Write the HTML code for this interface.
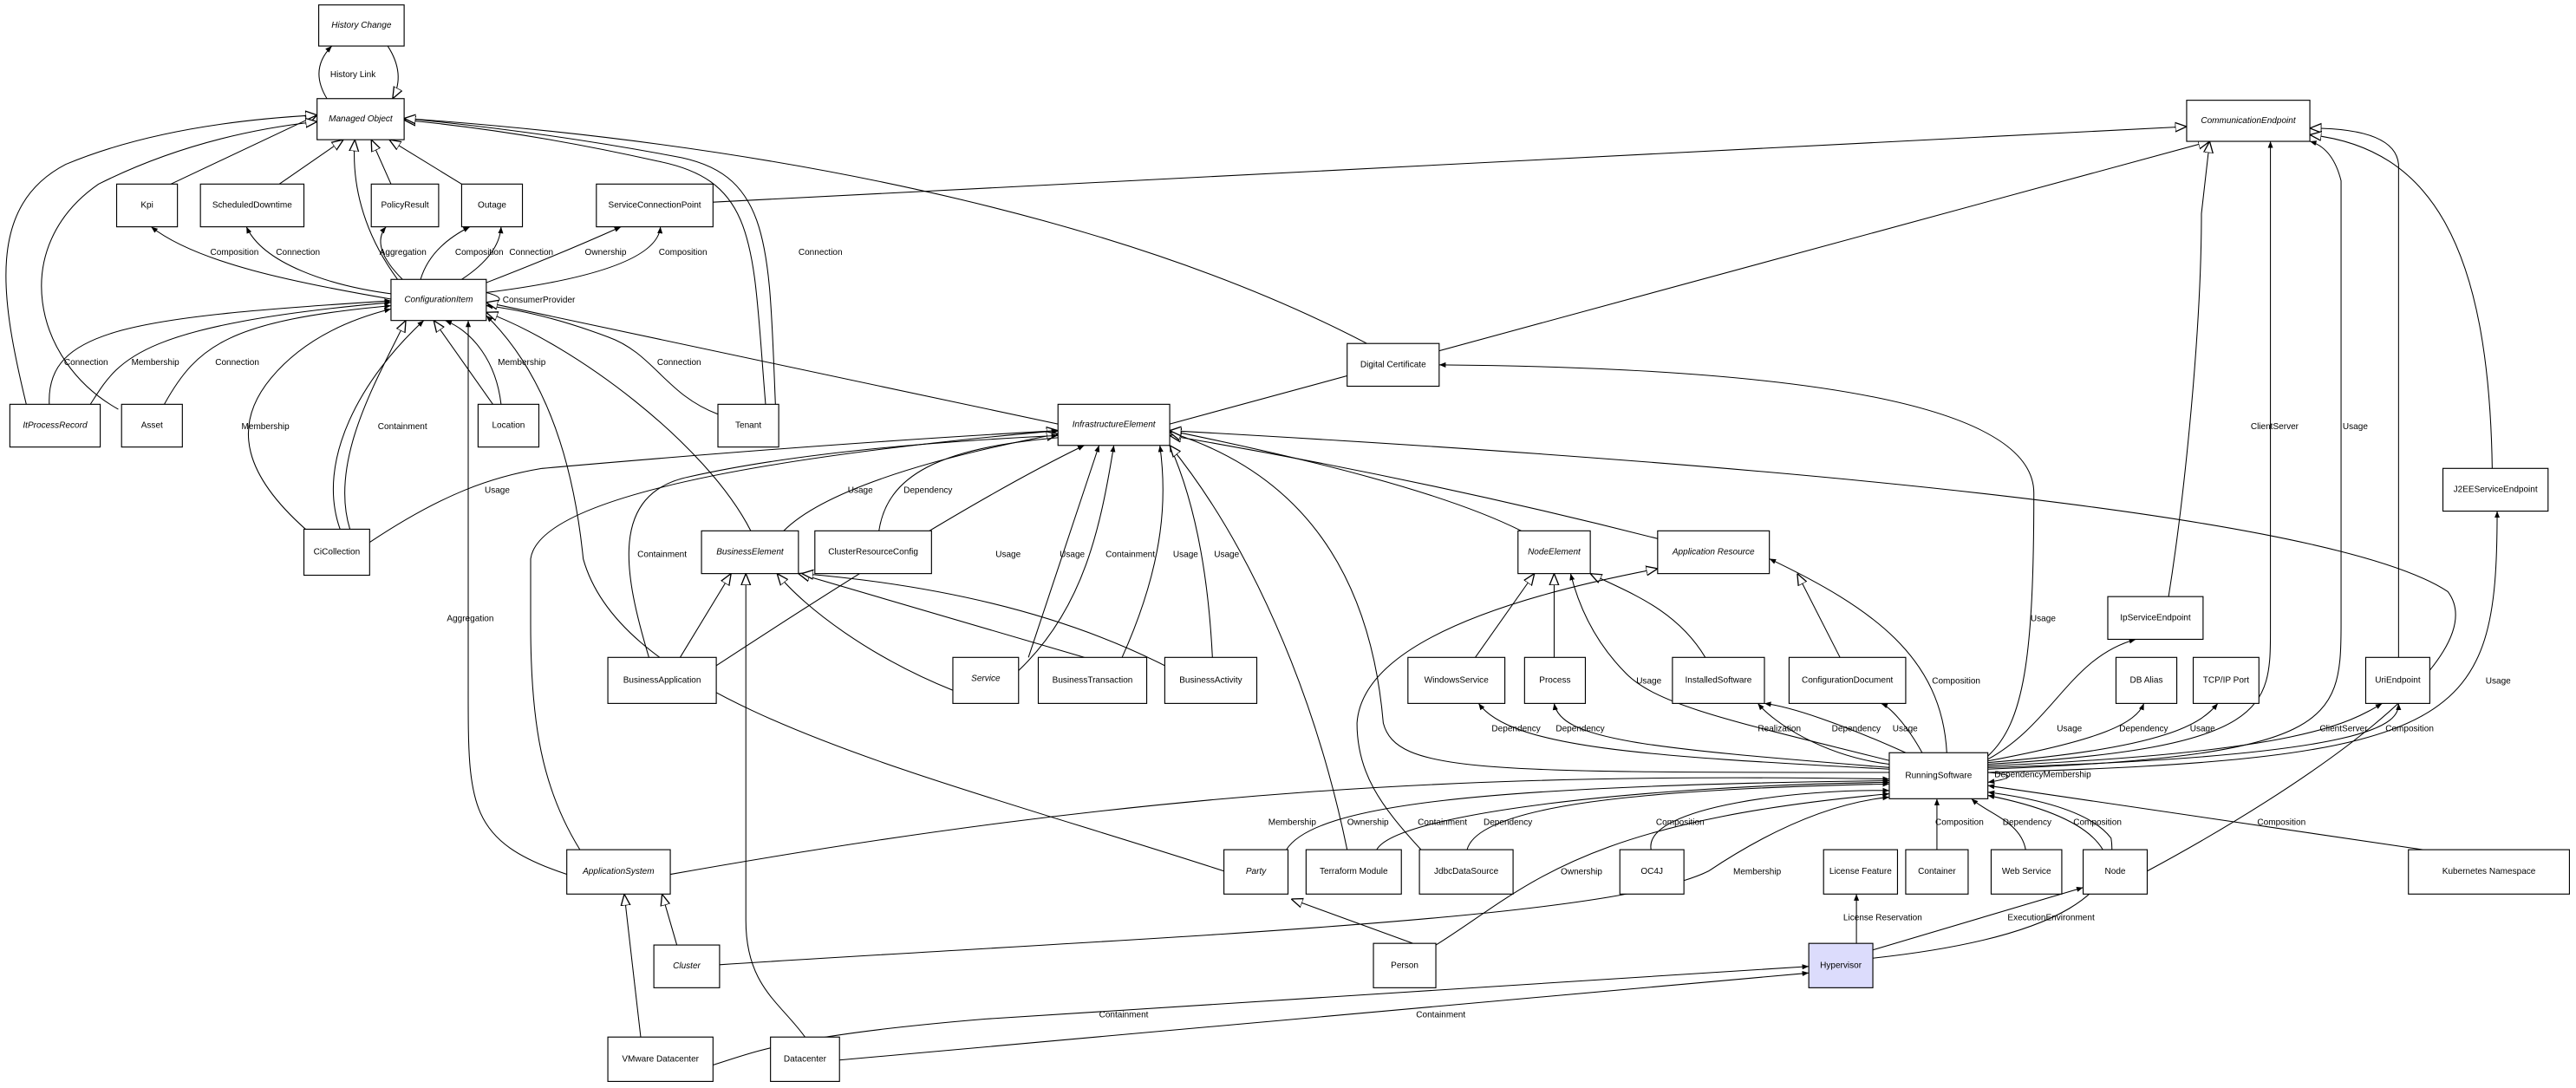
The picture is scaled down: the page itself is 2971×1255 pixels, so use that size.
<!DOCTYPE html>
<html><head><meta charset="utf-8"><style>
html,body{margin:0;padding:0;background:#fff;}
svg{display:block;}
text{font-family:"Liberation Sans",Arial,sans-serif;font-size:5.3px;fill:#000;}
.n{text-anchor:middle;dominant-baseline:central;}
.i{font-style:italic;}
.b{fill:#fff;stroke:#000;stroke-width:0.6;}
.e{fill:none;stroke:#000;stroke-width:0.55;}
</style></head><body>
<svg width="2971" height="1255" viewBox="0 0 1568 662" preserveAspectRatio="none" xmlns="http://www.w3.org/2000/svg">
<defs>
<marker id="f" viewBox="0 0 10 10" refX="10" refY="5" markerWidth="4" markerHeight="4" orient="auto" markerUnits="userSpaceOnUse"><path d="M0,1 L10,5 L0,9 z" fill="#000"/></marker>
<marker id="h" viewBox="0 0 10 10" refX="10" refY="5" markerWidth="7" markerHeight="7" orient="auto" markerUnits="userSpaceOnUse"><path d="M0,1 L10,5 L0,9 z" fill="#fff" stroke="#000" stroke-width="1"/></marker>
</defs>
<g class="e">
<path d="M199 60 Q188 42 202 28" marker-end="url(#f)"/>
<path d="M236 28 Q247 45 239 60" marker-end="url(#h)"/>
<path d="M104 112 L193 70" marker-end="url(#h)"/>
<path d="M170 112 L209 85" marker-end="url(#h)"/>
<path d="M238 112 L226 85" marker-end="url(#h)"/>
<path d="M281 112 L237 85" marker-end="url(#h)"/>
<path d="M16 246 C0 180 -8 125 40 100 Q100 75 193 70" marker-end="url(#h)"/>
<path d="M72 249 C20 220 5 150 60 112 Q120 82 193 74" marker-end="url(#h)"/>
<path d="M242 170 C220 140 214 110 216 85" marker-end="url(#h)"/>
<path d="M466 246 C458 150 462 110 400 98 Q320 80 246 73" marker-end="url(#h)"/>
<path d="M472 246 C468 150 470 105 410 95 Q330 80 246 72" marker-end="url(#f)"/>
<path d="M832 209 C700 140 500 90 246 72" marker-end="url(#h)"/>
<path d="M434 123 L1331 77" marker-end="url(#h)"/>
<path d="M712 258 L1345 86" marker-end="url(#h)"/>
<path d="M238 182 C180 172 120 160 92 138" marker-end="url(#f)"/>
<path d="M240 179 C200 174 160 160 150 138" marker-end="url(#f)"/>
<path d="M245 170 Q225 150 235 138" marker-end="url(#f)"/>
<path d="M256 170 Q262 150 286 138" marker-end="url(#f)"/>
<path d="M281 170 Q304 155 305 138" marker-end="url(#f)"/>
<path d="M296 172 Q340 155 378 138" marker-end="url(#f)"/>
<path d="M296 178 Q400 165 402 138" marker-end="url(#f)"/>
<path d="M296 178 Q312 182 296 186" marker-end="url(#f)"/>
<path d="M30 246 C28 200 80 193 238 183" marker-end="url(#f)"/>
<path d="M55 246 C72 220 80 198 238 184" marker-end="url(#f)"/>
<path d="M100 246 C120 210 140 195 238 186" marker-end="url(#f)"/>
<path d="M186 322 C150 290 140 260 165 230 Q190 200 238 188" marker-end="url(#f)"/>
<path d="M207 322 C192 280 220 230 258 195" marker-end="url(#f)"/>
<path d="M213 322 C200 280 230 230 247 195" marker-end="url(#h)"/>
<path d="M300 246 L264 195" marker-end="url(#h)"/>
<path d="M305 246 C302 220 288 202 271 195" marker-end="url(#f)"/>
<path d="M437 252 C405 240 398 215 370 205 Q330 190 296 186" marker-end="url(#f)"/>
<path d="M345 532 C285 512 285 490 285 420 L285 195" marker-end="url(#f)"/>
<path d="M745 530 C560 470 380 430 355 340 Q345 240 296 192" marker-end="url(#f)"/>
<path d="M457 323 C430 270 350 210 296 190" marker-end="url(#h)"/>
<path d="M644 258 L296 184" marker-end="url(#h)"/>
<path d="M353 517 C330 480 323 440 323 380 L323 340 Q330 290 644 262" marker-end="url(#h)"/>
<path d="M225 330 C270 300 300 290 330 285 Q500 270 644 262" marker-end="url(#f)"/>
<path d="M477 323 C500 300 560 280 644 264" marker-end="url(#h)"/>
<path d="M535 323 C540 290 570 272 648 266" marker-end="url(#f)"/>
<path d="M395 400 C380 350 370 300 420 290 Q500 272 644 265" marker-end="url(#f)"/>
<path d="M436 405 C520 350 600 300 660 271" marker-end="url(#f)"/>
<path d="M626 400 L669 271" marker-end="url(#f)"/>
<path d="M620 408 C660 370 670 320 678 271" marker-end="url(#f)"/>
<path d="M683 400 C710 340 710 300 706 271" marker-end="url(#f)"/>
<path d="M738 400 C735 340 725 300 712 271" marker-end="url(#f)"/>
<path d="M820 517 C800 420 760 330 712 271" marker-end="url(#h)"/>
<path d="M926 323 C880 300 800 280 712 262" marker-end="url(#h)"/>
<path d="M1010 328 C900 300 800 280 712 265" marker-end="url(#h)"/>
<path d="M1150 470 C900 470 850 470 842 440 Q830 300 712 263" marker-end="url(#h)"/>
<path d="M1307 530 C1400 480 1520 400 1490 360 Q1400 300 712 262" marker-end="url(#h)"/>
<path d="M414 400 L445 349" marker-end="url(#h)"/>
<path d="M580 420 C530 400 490 370 473 349" marker-end="url(#h)"/>
<path d="M660 400 L486 349" marker-end="url(#h)"/>
<path d="M709 405 C640 370 560 355 488 349" marker-end="url(#h)"/>
<path d="M490 631 C475 610 454 600 454 560 L454 349" marker-end="url(#h)"/>
<path d="M898 400 L934 349" marker-end="url(#h)"/>
<path d="M946 400 L946 349" marker-end="url(#h)"/>
<path d="M1038 400 C1020 370 990 360 968 349" marker-end="url(#h)"/>
<path d="M1155 464 C1060 440 1010 430 990 410 Q965 385 956 349" marker-end="url(#f)"/>
<path d="M1120 400 L1094 349" marker-end="url(#h)"/>
<path d="M865 517 C840 490 826 470 826 440 Q830 380 1009 346" marker-end="url(#h)"/>
<path d="M1185 458 C1182 400 1140 370 1077 340" marker-end="url(#f)"/>
<path d="M1150 468 C1000 460 920 455 900 428" marker-end="url(#f)"/>
<path d="M1150 467 C1000 455 950 450 946 428" marker-end="url(#f)"/>
<path d="M1150 465 C1110 460 1080 440 1070 428" marker-end="url(#f)"/>
<path d="M1160 458 C1120 440 1090 430 1074 428" marker-end="url(#f)"/>
<path d="M1170 458 C1160 440 1150 430 1145 428" marker-end="url(#f)"/>
<path d="M1210 462 C1250 440 1260 400 1300 389" marker-end="url(#f)"/>
<path d="M1210 463 C1280 450 1300 440 1305 428" marker-end="url(#f)"/>
<path d="M1210 464 C1320 455 1340 440 1350 428" marker-end="url(#f)"/>
<path d="M1210 466 C1400 458 1430 440 1450 428" marker-end="url(#f)"/>
<path d="M1210 467 C1450 460 1460 440 1460 428" marker-end="url(#f)"/>
<path d="M1210 460 C1232 440 1238 400 1238 300 Q1238 225 876 222" marker-end="url(#f)"/>
<path d="M1210 465 C1385 455 1382 430 1382 380 L1382 86" marker-end="url(#f)"/>
<path d="M1210 468 C1420 460 1425 440 1425 380 L1425 110 Q1420 90 1406 86" marker-end="url(#f)"/>
<path d="M1210 470 C1500 462 1520 440 1520 311" marker-end="url(#f)"/>
<path d="M1320 363 C1330 300 1340 200 1340 130 L1345 86" marker-end="url(#h)"/>
<path d="M1460 400 L1460 100 Q1458 78 1406 78" marker-end="url(#h)"/>
<path d="M1517 285 C1515 150 1480 90 1406 82" marker-end="url(#h)"/>
<path d="M408 532 C700 480 900 470 1150 474" marker-end="url(#f)"/>
<path d="M783 517 C800 490 900 478 1150 475" marker-end="url(#f)"/>
<path d="M838 517 C850 495 1000 478 1150 476" marker-end="url(#f)"/>
<path d="M893 517 C900 490 1000 480 1150 477" marker-end="url(#f)"/>
<path d="M1005 517 C1000 490 1100 480 1150 481" marker-end="url(#f)"/>
<path d="M874 575 C930 540 960 500 1150 483" marker-end="url(#f)"/>
<path d="M438 587 C700 570 980 560 1040 530 Q1100 490 1150 485" marker-end="url(#f)"/>
<path d="M1179 517 L1179 486" marker-end="url(#f)"/>
<path d="M1233 517 C1230 500 1210 495 1200 486" marker-end="url(#f)"/>
<path d="M1280 517 C1270 500 1240 490 1210 484" marker-end="url(#f)"/>
<path d="M1475 517 L1210 478" marker-end="url(#f)"/>
<path d="M1140 583 C1260 570 1290 540 1285 510 Q1270 490 1210 482" marker-end="url(#f)"/>
<path d="M1210 470 Q1235 472 1210 476" marker-end="url(#f)"/>
<path d="M1130 574 L1130 544" marker-end="url(#f)"/>
<path d="M1140 578 L1268 540" marker-end="url(#f)"/>
<path d="M434 648 C460 640 480 630 600 620 L1101 588" marker-end="url(#f)"/>
<path d="M511 645 L1101 592" marker-end="url(#f)"/>
<path d="M412 575 L403 544" marker-end="url(#h)"/>
<path d="M390 631 L380 544" marker-end="url(#h)"/>
<path d="M860 574 L786 547" marker-end="url(#h)"/>
</g>
<g>
<text x="201" y="47">History Link</text>
<text x="128" y="155">Composition</text>
<text x="168" y="155">Connection</text>
<text x="231" y="155">Aggregation</text>
<text x="277" y="155">Composition</text>
<text x="310" y="155">Connection</text>
<text x="356" y="155">Ownership</text>
<text x="401" y="155">Composition</text>
<text x="486" y="155">Connection</text>
<text x="306" y="184">ConsumerProvider</text>
<text x="39" y="222">Connection</text>
<text x="80" y="222">Membership</text>
<text x="131" y="222">Connection</text>
<text x="303" y="222">Membership</text>
<text x="400" y="222">Connection</text>
<text x="147" y="261">Membership</text>
<text x="230" y="261">Containment</text>
<text x="295" y="300">Usage</text>
<text x="516" y="300">Usage</text>
<text x="550" y="300">Dependency</text>
<text x="388" y="339">Containment</text>
<text x="606" y="339">Usage</text>
<text x="645" y="339">Usage</text>
<text x="673" y="339">Containment</text>
<text x="714" y="339">Usage</text>
<text x="739" y="339">Usage</text>
<text x="272" y="378">Aggregation</text>
<text x="1236" y="378">Usage</text>
<text x="1370" y="261">ClientServer</text>
<text x="1426" y="261">Usage</text>
<text x="996" y="416">Usage</text>
<text x="1176" y="416">Composition</text>
<text x="1513" y="416">Usage</text>
<text x="908" y="445">Dependency</text>
<text x="947" y="445">Dependency</text>
<text x="1070" y="445">Realization</text>
<text x="1115" y="445">Dependency</text>
<text x="1152" y="445">Usage</text>
<text x="1252" y="445">Usage</text>
<text x="1290" y="445">Dependency</text>
<text x="1333" y="445">Usage</text>
<text x="1412" y="445">ClientServer</text>
<text x="1452" y="445">Composition</text>
<text x="1214" y="473">DependencyMembership</text>
<text x="772" y="502">Membership</text>
<text x="820" y="502">Ownership</text>
<text x="863" y="502">Containment</text>
<text x="903" y="502">Dependency</text>
<text x="1008" y="502">Composition</text>
<text x="1178" y="502">Composition</text>
<text x="1219" y="502">Dependency</text>
<text x="1262" y="502">Composition</text>
<text x="1374" y="502">Composition</text>
<text x="950" y="532">Ownership</text>
<text x="1055" y="532">Membership</text>
<text x="1122" y="560">License Reservation</text>
<text x="1222" y="560">ExecutionEnvironment</text>
<text x="669" y="619">Containment</text>
<text x="862" y="619">Containment</text>
</g>
<g>
<rect class="b" x="194" y="3" width="52" height="25"/><text class="n i" x="220" y="15.5">History Change</text>
<rect class="b" x="193" y="60" width="53" height="25"/><text class="n i" x="219.5" y="72.5">Managed Object</text>
<rect class="b" x="71" y="112" width="37" height="26"/><text class="n" x="89.5" y="125">Kpi</text>
<rect class="b" x="122" y="112" width="63" height="26"/><text class="n" x="153.5" y="125">ScheduledDowntime</text>
<rect class="b" x="226" y="112" width="41" height="26"/><text class="n" x="246.5" y="125">PolicyResult</text>
<rect class="b" x="281" y="112" width="37" height="26"/><text class="n" x="299.5" y="125">Outage</text>
<rect class="b" x="363" y="112" width="71" height="26"/><text class="n" x="398.5" y="125">ServiceConnectionPoint</text>
<rect class="b" x="238" y="170" width="58" height="25"/><text class="n i" x="267" y="182.5">ConfigurationItem</text>
<rect class="b" x="6" y="246" width="55" height="26"/><text class="n i" x="33.5" y="259">ItProcessRecord</text>
<rect class="b" x="74" y="246" width="37" height="26"/><text class="n" x="92.5" y="259">Asset</text>
<rect class="b" x="291" y="246" width="37" height="26"/><text class="n" x="309.5" y="259">Location</text>
<rect class="b" x="437" y="246" width="37" height="26"/><text class="n" x="455.5" y="259">Tenant</text>
<rect class="b" x="820" y="209" width="56" height="26"/><text class="n" x="848" y="222">Digital Certificate</text>
<rect class="b" x="1331" y="61" width="75" height="25"/><text class="n i" x="1368.5" y="73.5">CommunicationEndpoint</text>
<rect class="b" x="644" y="246" width="68" height="25"/><text class="n i" x="678" y="258.5">InfrastructureElement</text>
<rect class="b" x="185" y="322" width="40" height="28"/><text class="n" x="205" y="336">CiCollection</text>
<rect class="b" x="427" y="323" width="59" height="26"/><text class="n i" x="456.5" y="336">BusinessElement</text>
<rect class="b" x="496" y="323" width="71" height="26"/><text class="n" x="531.5" y="336">ClusterResourceConfig</text>
<rect class="b" x="924" y="323" width="44" height="26"/><text class="n i" x="946" y="336">NodeElement</text>
<rect class="b" x="1009" y="323" width="68" height="26"/><text class="n i" x="1043" y="336">Application Resource</text>
<rect class="b" x="1487" y="285" width="64" height="26"/><text class="n" x="1519" y="298">J2EEServiceEndpoint</text>
<rect class="b" x="370" y="400" width="66" height="28"/><text class="n" x="403" y="414">BusinessApplication</text>
<rect class="b" x="580" y="400" width="40" height="28"/><text class="n i" x="600" y="413">Service</text>
<rect class="b" x="632" y="400" width="66" height="28"/><text class="n" x="665" y="414">BusinessTransaction</text>
<rect class="b" x="709" y="400" width="56" height="28"/><text class="n" x="737" y="414">BusinessActivity</text>
<rect class="b" x="857" y="400" width="59" height="28"/><text class="n" x="886.5" y="414">WindowsService</text>
<rect class="b" x="928" y="400" width="37" height="28"/><text class="n" x="946.5" y="414">Process</text>
<rect class="b" x="1018" y="400" width="56" height="28"/><text class="n" x="1046" y="414">InstalledSoftware</text>
<rect class="b" x="1089" y="400" width="71" height="28"/><text class="n" x="1124.5" y="414">ConfigurationDocument</text>
<rect class="b" x="1283" y="363" width="58" height="26"/><text class="n" x="1312" y="376">IpServiceEndpoint</text>
<rect class="b" x="1288" y="400" width="37" height="28"/><text class="n" x="1306.5" y="414">DB Alias</text>
<rect class="b" x="1335" y="400" width="40" height="28"/><text class="n" x="1355" y="414">TCP/IP Port</text>
<rect class="b" x="1440" y="400" width="39" height="28"/><text class="n" x="1459.5" y="414">UriEndpoint</text>
<rect class="b" x="1150" y="458" width="60" height="28"/><text class="n" x="1180" y="472">RunningSoftware</text>
<rect class="b" x="345" y="517" width="63" height="27"/><text class="n i" x="376.5" y="530.5">ApplicationSystem</text>
<rect class="b" x="745" y="517" width="39" height="27"/><text class="n i" x="764.5" y="530.5">Party</text>
<rect class="b" x="795" y="517" width="58" height="27"/><text class="n" x="824" y="530.5">Terraform Module</text>
<rect class="b" x="864" y="517" width="57" height="27"/><text class="n" x="892.5" y="530.5">JdbcDataSource</text>
<rect class="b" x="986" y="517" width="39" height="27"/><text class="n" x="1005.5" y="530.5">OC4J</text>
<rect class="b" x="1110" y="517" width="45" height="27"/><text class="n" x="1132.5" y="530.5">License Feature</text>
<rect class="b" x="1160" y="517" width="38" height="27"/><text class="n" x="1179" y="530.5">Container</text>
<rect class="b" x="1212" y="517" width="43" height="27"/><text class="n" x="1233.5" y="530.5">Web Service</text>
<rect class="b" x="1268" y="517" width="39" height="27"/><text class="n" x="1287.5" y="530.5">Node</text>
<rect class="b" x="1466" y="517" width="98" height="27"/><text class="n" x="1515" y="530.5">Kubernetes Namespace</text>
<rect class="b" x="398" y="575" width="40" height="26"/><text class="n i" x="418" y="588">Cluster</text>
<rect class="b" x="836" y="574" width="38" height="27"/><text class="n" x="855" y="587.5">Person</text>
<rect class="b" x="1101" y="574" width="39" height="27" style="fill:#dcdcfc"/><text class="n" x="1120.5" y="587.5">Hypervisor</text>
<rect class="b" x="370" y="631" width="64" height="27"/><text class="n" x="402" y="644.5">VMware Datacenter</text>
<rect class="b" x="469" y="631" width="42" height="27"/><text class="n" x="490" y="644.5">Datacenter</text>
</g>
</svg>
</body></html>
